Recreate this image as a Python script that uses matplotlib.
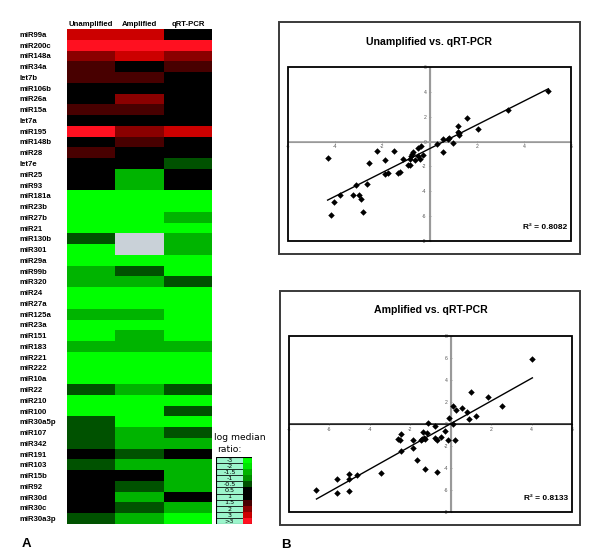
import numpy as np
import matplotlib
matplotlib.use('Agg')
import matplotlib.pyplot as plt
from matplotlib.colors import ListedColormap, BoundaryNorm
from matplotlib.patches import Rectangle

plt.rcParams['font.family'] = ['Liberation Sans', 'DejaVu Sans']

# ---------------- data ----------------
mirnas = ['miR99a', 'miR200c', 'miR148a', 'miR34a', 'let7b', 'miR106b', 'miR26a',
          'miR15a', 'let7a', 'miR195', 'miR148b', 'miR28', 'let7e', 'miR25', 'miR93',
          'miR181a', 'miR23b', 'miR27b', 'miR21', 'miR130b', 'miR301', 'miR29a',
          'miR99b', 'miR320', 'miR24', 'miR27a', 'miR125a', 'miR23a', 'miR151',
          'miR183', 'miR221', 'miR222', 'miR10a', 'miR22', 'miR210', 'miR100',
          'miR30a5p', 'miR107', 'miR342', 'miR191', 'miR103', 'miR15b', 'miR92',
          'miR30d', 'miR30c', 'miR30a3p']
columns = ['Unamplified', 'Amplified', 'qRT-PCR']
nan = np.nan
unamplified = [3, 4, 2, 1.5, 1.5, 0, 0, 1.5, 0, 4, 0, 1.5, 0, 0, 0,
               -3, -3, -3, -3, -0.5, -3, -3, -1.5, -1.5, -3, -3, -1.5, -3, -3,
               -1.5, -3, -3, -3, -0.5, -3, -3, -0.5, -0.5, -0.5, 0, -0.5, 0, 0,
               0, 0, -0.5]
amplified = [3, 4, 3, 0, 1.5, 0, 2, 1.5, 0, 2, 1.5, 0, 0, -1.5, -1.5,
             -3, -3, -3, -3, nan, nan, -3, -0.5, -1.5, -3, -3, -1.5, -3, -1.5,
             -1.5, -3, -3, -3, -1.5, -3, -3, -3, -1.5, -1.5, -0.5, -1.5, 0, -0.5,
             -1.5, -0.5, -1.5]
qrtpcr = [0, 4, 2, 1.5, 0, 0, 0, 0, 0, 3, 0, 0, -0.5, 0, 0,
          -3, -3, -1.5, -3, -1.5, -1.5, -3, -3, -0.5, -3, -3, -3, -3, -3,
          -1.5, -3, -3, -3, -0.5, -3, -0.5, -3, -0.5, -1.5, 0, -1.5, -1.5, -1.5,
          0, -1.5, -3]

legend_labels = ['-3', '-2', '-1.5', '-1', '-0.5', '0.5', '1', '1.5', '2', '3', '>3']
legend_values = [-3, -2, -1.5, -1, -0.5, 0.5, 1, 1.5, 2, 3, 4]
level_colors = ['#00FF00', '#00E600', '#00B400', '#009200', '#005200', '#000000',
                '#000000', '#480000', '#8A0000', '#CC0000', '#FF1020']
bounds = [-10, -2.5, -1.75, -1.25, -0.75, -0.25, 0.75, 1.25, 1.75, 2.5, 3.5, 10]

unamp_x = [-4.32, -4.16, -4.04, -3.80, -3.23, -3.13, -2.99, -2.89, -2.83, -2.65,
           -2.56, -2.21, -1.87, -1.87, -1.78, -1.49, -1.32, -1.23, -1.13, -0.93,
           -0.81, -0.84, -0.78, -0.74, -0.71, -0.61, -0.50, -0.48, -0.40, -0.34,
           -0.28, 0.31, 0.57, 0.59, 0.79, 0.81, 0.99, 1.19, 1.22, 1.25, 1.27,
           1.59, 2.05, 3.34, 5.04]
unamp_y = [-1.32, -5.90, -4.90, -4.31, -4.31, -3.48, -4.31, -4.66, -5.63, -3.42,
           -1.70, -0.73, -1.46, -2.64, -2.51, -0.73, -2.56, -2.48, -1.37, -1.89,
           -1.89, -1.37, -1.16, -1.00, -0.81, -1.48, -1.19, -0.49, -1.43, -0.32,
           -1.11, -0.16, 0.19, -0.81, 0.19, 0.27, -0.13, 1.27, 0.81, 0.67, 0.51,
           1.89, 1.00, 2.53, 4.07]
amp_x = [-6.64, -5.63, -5.63, -5.03, -5.03, -5.03, -4.64, -3.44, -2.62, -2.53,
         -2.45, -2.45, -1.87, -1.87, -1.69, -1.49, -1.41, -1.36, -1.32, -1.29,
         -1.27, -1.19, -1.11, -0.79, -0.76, -0.70, -0.66, -0.48, -0.26, -0.15,
         -0.10, 0.10, 0.12, 0.22, 0.26, 0.56, 0.81, 0.88, 0.98, 1.27, 1.84,
         2.52, 4.04]
amp_y = [-6.04, -5.03, -6.28, -4.57, -5.00, -6.10, -4.63, -4.42, -1.40, -1.46,
         -0.95, -2.44, -1.46, -2.16, -3.26, -1.46, -1.37, -0.76, -1.25, -1.37,
         -4.12, -0.79, 0.12, -0.15, -1.31, -1.43, -4.33, -1.16, -0.61, -1.43,
         0.58, 1.65, 0.00, -1.43, 1.25, 1.46, 1.13, 0.46, 2.93, 0.76, 2.41,
         1.65, 5.91]

W, H = 600, 551
fig = plt.figure(figsize=(W / 100, H / 100), dpi=100)


def fbox(l, t, r, b):
    return [l / W, 1 - b / H, (r - l) / W, (b - t) / H]


# ---------------- heatmap ----------------
cmap = ListedColormap(level_colors)
cmap.set_bad('#C9D1D8')
norm = BoundaryNorm(bounds, cmap.N)
data = np.array([unamplified, amplified, qrtpcr], dtype=float).T

ax = fig.add_axes(fbox(67, 29, 212, 524))
ax.imshow(np.ma.masked_invalid(data), cmap=cmap, norm=norm, aspect='auto',
          interpolation='nearest')
ax.set_yticks(range(len(mirnas)))
ax.set_yticklabels(mirnas, fontsize=5.6, fontweight='bold', ha='left')
ax.tick_params(axis='y', length=0, pad=47 * 0.72)
ax.xaxis.tick_top()
ax.set_xticks(range(len(columns)))
ax.set_xticklabels(columns, fontsize=5.6, fontweight='bold')
ax.tick_params(axis='x', length=0, pad=0.8)
for s in ax.spines.values():
    s.set_visible(False)

# ---------------- colour key ----------------
lax = fig.add_axes(fbox(216, 457, 252, 524))
lax.set_xlim(0, 36)
lax.set_ylim(len(legend_labels), 0)
lax.axis('off')
for i, (lab, val) in enumerate(zip(legend_labels, legend_values)):
    lax.add_patch(Rectangle((0, i), 27, 1, fc='#9CF5CC', ec='black', lw=0.5))
    lax.add_patch(Rectangle((27, i), 9, 1, fc=cmap(norm(val)), ec='none'))
    lax.text(13.5, i + 0.55, lab, ha='center', va='center', fontsize=4.6,
             family='DejaVu Sans')
lax.add_patch(Rectangle((0, 0), 36, len(legend_labels), fill=False, ec='black', lw=0.8))
fig.text(214 / W, 1 - 438 / H, 'log median', fontsize=6.6, family='DejaVu Sans',
         va='center', ha='left')
fig.text(217 / W, 1 - 449 / H, 'ratio:', fontsize=6.6, family='DejaVu Sans',
         va='center', ha='left')


# ---------------- scatter panels ----------------
def panel(outer, inner, x, y, xlim, ylim, title, title_y, r2, hcol):
    l, t, r, b = outer
    fig.patches.append(Rectangle((l / W, 1 - b / H), (r - l) / W, (b - t) / H,
                                 transform=fig.transFigure, fill=False,
                                 ec='#3a3a3a', lw=1.4))
    a = fig.add_axes(fbox(*inner))
    x = np.asarray(x)
    y = np.asarray(y)
    a.axvline(0, color='#999999', lw=1.5, zorder=1)
    a.axhline(0, color=hcol, lw=1.1, zorder=1)
    a.plot(x, y, 'D', color='black', ms=3.3, mew=0, zorder=4)
    coef = np.polyfit(x, y, 1)
    xs = np.array([x.min(), x.max()])
    a.plot(xs, np.polyval(coef, xs), color='black', lw=1.0, zorder=4)
    a.set_xlim(*xlim)
    a.set_ylim(*ylim)
    a.spines['left'].set_position(('data', 0))
    a.spines['bottom'].set_position(('data', 0))
    a.spines['left'].set_color('#999999')
    a.spines['bottom'].set_color(hcol)
    a.spines['top'].set_visible(False)
    a.spines['right'].set_visible(False)
    a.add_patch(Rectangle((0, 0), 1, 1, transform=a.transAxes, fill=False,
                          ec='black', lw=1.3, clip_on=False, zorder=5))
    xt = np.arange(xlim[0], xlim[1] + 1, 2)
    yt = np.arange(ylim[0], ylim[1] + 1, 2)
    a.set_xticks(xt)
    a.set_xticklabels(['' if v == 0 else str(int(v)) for v in xt])
    a.set_yticks(yt)
    a.set_yticklabels([str(int(v)) for v in yt])
    a.tick_params(labelsize=3.6, length=1.8, width=0.5, color='#888888',
                  labelcolor='#555555', pad=1.2, direction='inout')
    il, it, ir, ib = inner
    fig.text(((il + ir) / 2) / W, 1 - title_y / H, title, ha='center', va='center',
             fontsize=7.6, fontweight='bold')
    a.text(0.985, 0.075, r2, transform=a.transAxes, ha='right', va='center',
           fontsize=6, fontweight='bold')
    return a


panel((279, 22, 580, 254), (288, 67, 571, 241), unamp_x, unamp_y, (-6, 6), (-8, 6),
      'Unamplified vs. qRT-PCR', 42, 'R\u00b2 = 0.8082', '#999999')
panel((280, 291, 580, 525), (289, 336, 572, 512), amp_x, amp_y, (-8, 6), (-8, 8),
      'Amplified vs. qRT-PCR', 310, 'R\u00b2 = 0.8133', '#222222')

fig.text(22 / W, 1 - 544 / H, 'A', fontsize=9.5, fontweight='bold', va='center')
fig.text(281 / W, 1 - 545 / H, 'B', fontsize=9.5, fontweight='bold', va='center')

fig.savefig('out.png', dpi=100)
